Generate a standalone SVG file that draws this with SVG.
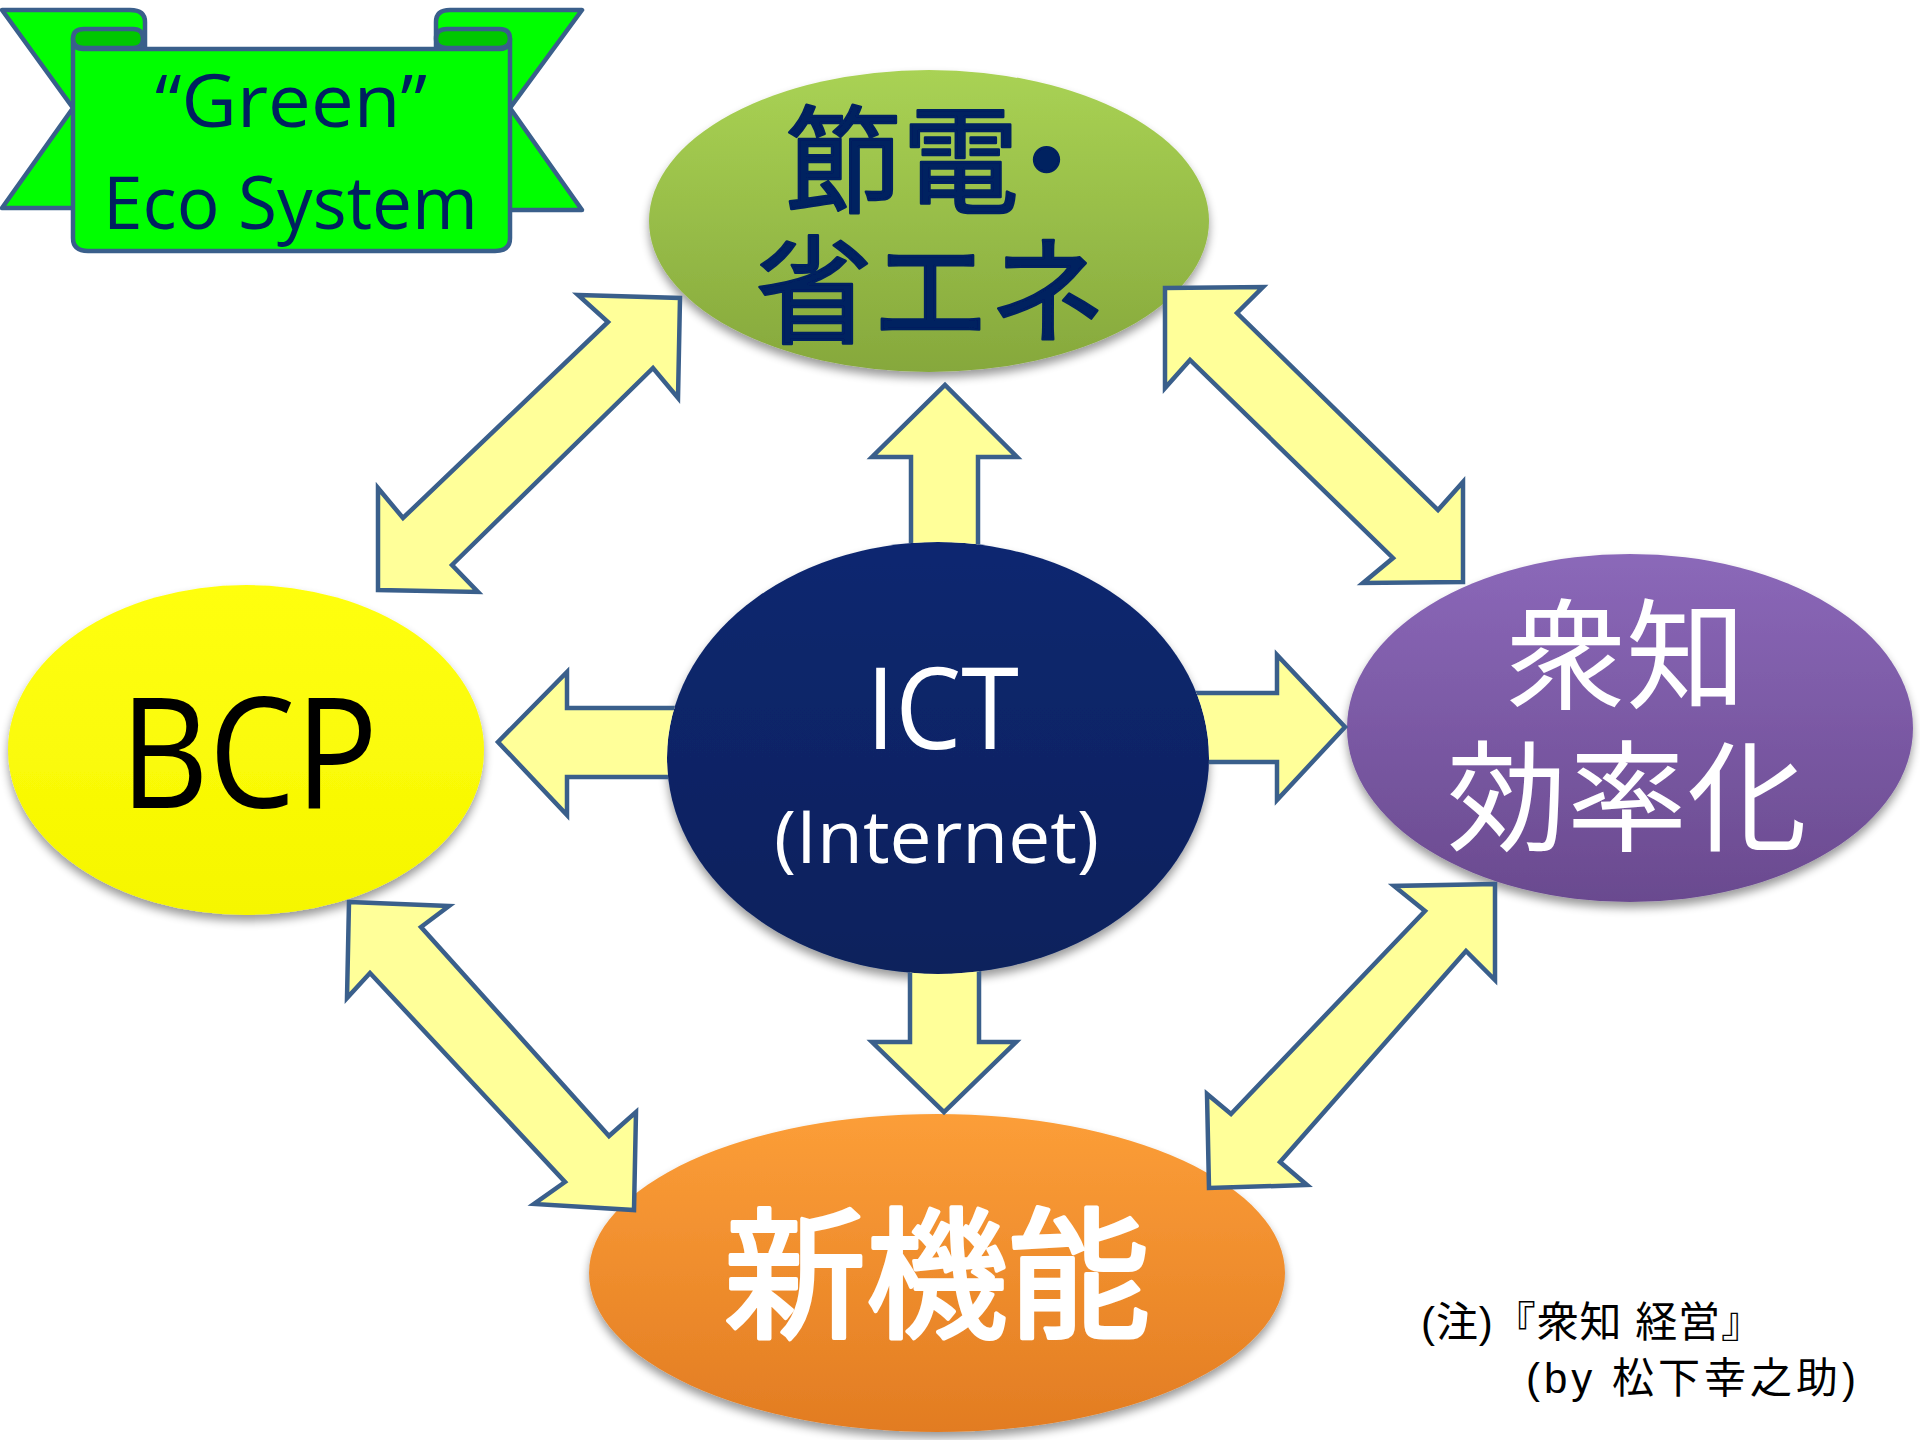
<svg xmlns="http://www.w3.org/2000/svg" width="1920" height="1440" viewBox="0 0 1920 1440">
<defs>
<style>
.arrow{fill:#FFFF99;stroke:#3A5F8B;stroke-width:4.5;stroke-linejoin:miter}
.ban{stroke:#3A5F8B;stroke-width:4.5;stroke-linejoin:round}
.lat{font-family:"Open Sans","Liberation Sans",sans-serif}
.cjk{font-family:"Noto Sans CJK JP","Noto Sans CJK SC",sans-serif}
</style>
<linearGradient id="gGreen" x1="0" y1="0" x2="0" y2="1"><stop offset="0" stop-color="#A9D254"/><stop offset="1" stop-color="#86A83C"/></linearGradient>
<linearGradient id="gNavy" x1="0" y1="0" x2="0" y2="1"><stop offset="0" stop-color="#0D2870"/><stop offset="1" stop-color="#08205C"/></linearGradient>
<linearGradient id="gYellow" x1="0" y1="0" x2="0" y2="1"><stop offset="0" stop-color="#FFFF10"/><stop offset="1" stop-color="#F6F600"/></linearGradient>
<linearGradient id="gPurple" x1="0" y1="0" x2="0" y2="1"><stop offset="0" stop-color="#8B68B9"/><stop offset="1" stop-color="#6A4A8F"/></linearGradient>
<linearGradient id="gOrange" x1="0" y1="0" x2="0" y2="1"><stop offset="0" stop-color="#FC9E38"/><stop offset="1" stop-color="#E27C22"/></linearGradient>
<filter id="sh" x="-10%" y="-10%" width="120%" height="130%">
<feGaussianBlur in="SourceAlpha" stdDeviation="5"/>
<feOffset dy="6"/>
<feComponentTransfer><feFuncA type="linear" slope="0.4"/></feComponentTransfer>
<feMerge><feMergeNode/><feMergeNode in="SourceGraphic"/></feMerge>
</filter>
<clipPath id="outsideICT"><path clip-rule="evenodd" d="M0,0H1920V1440H0Z M667,758 A271,216 0 1 0 1209,758 A271,216 0 1 0 667,758 Z"/></clipPath>
</defs>
<rect width="1920" height="1440" fill="#FFFFFF"/>

<g id="banner">
<path class="ban" fill="#00FF00" d="M2,10 L130,10 Q145,10 145,22 L145,208 L2,208 L73,108 Z"/>
<path class="ban" fill="#00FF00" d="M582,10 L450,10 Q436,10 436,22 L436,210 L582,210 L510,108 Z"/>
<path class="ban" fill="#00FF00" d="M73,38.5 L73,238 Q73,251 88,251 L495,251 Q510,251 510,238 L510,38.5 Q510,49 500,49 L83,49 Q73,49 73,38.5 Z"/>
<path class="ban" fill="#00C800" d="M84,29 L133,29 Q143,29 143,38.5 Q143,48 133,48 L84,48 Q73,48 73,38.5 Q73,29 84,29 Z"/>
<path class="ban" fill="#00C800" d="M447,29 L499,29 Q510,29 510,38.5 Q510,48 499,48 L447,48 Q436,48 436,38.5 Q436,29 447,29 Z"/>
<text class="lat" font-size="74" fill="#002060"><tspan x="155" y="127" textLength="272" lengthAdjust="spacingAndGlyphs">“Green”</tspan><tspan x="103" y="229" textLength="375" lengthAdjust="spacingAndGlyphs">Eco System</tspan></text>
</g>

<g id="node-setsuden" filter="url(#sh)">
<ellipse cx="929" cy="221" rx="280" ry="151" fill="url(#gGreen)"/>
<text class="cjk" font-size="117" fill="#002060" stroke="#002060" stroke-width="2.5" stroke-linejoin="round"><tspan x="785 902 988" y="204">節電・</tspan><tspan x="755" y="334">省エネ</tspan></text>
</g>

<g id="node-ict" filter="url(#sh)">
<ellipse cx="938" cy="758" rx="271" ry="216" fill="url(#gNavy)"/>
<text class="lat" fill="#FFFFFF"><tspan x="866" y="749" font-size="114" textLength="153" lengthAdjust="spacingAndGlyphs">ICT</tspan><tspan x="774" y="863" font-size="74" textLength="325" lengthAdjust="spacingAndGlyphs">(Internet)</tspan></text>
</g>

<g id="node-bcp" filter="url(#sh)">
<ellipse cx="246" cy="750" rx="238" ry="165" fill="url(#gYellow)"/>
<text class="lat" x="120" y="808" font-size="154" fill="#000000" textLength="258" lengthAdjust="spacingAndGlyphs">BCP</text>
</g>

<g id="node-shuchi" filter="url(#sh)">
<ellipse cx="1630" cy="728" rx="283" ry="174" fill="url(#gPurple)"/>
<text class="cjk" font-size="120" fill="#FFFFFF"><tspan x="1506" y="700">衆知</tspan><tspan x="1447" y="842">効率化</tspan></text>
</g>

<g id="node-shinkino" filter="url(#sh)">
<ellipse cx="937" cy="1273" rx="348" ry="159" fill="url(#gOrange)"/>
<text class="cjk" x="937" y="1327" font-size="142" fill="#FFFFFF" stroke="#FFFFFF" stroke-width="4" stroke-linejoin="round" text-anchor="middle">新機能</text>
</g>

<g id="connectors">
<g clip-path="url(#outsideICT)">
<polygon class="arrow" points="911,620 911,457 872,457 945,385 1017,457 978,457 978,620"/>
<polygon class="arrow" points="910,900 910,1042 872,1042 944,1112 1016,1042 979,1042 979,900"/>
<polygon class="arrow" points="760,708 567,708 567,672 498,742 567,815 567,777 760,777"/>
<polygon class="arrow" points="1120,693 1277,693 1277,655 1345,727 1277,800 1277,762 1120,762"/>
</g>
<polygon class="arrow" points="578,295 680,298 678,398 653,368 452,565 478,592 378,590 378,488 403,518 608,322"/>
<polygon class="arrow" points="1165,288 1263,287 1237,313 1438,510 1463,482 1463,582 1363,583 1393,558 1190,360 1165,388"/>
<polygon class="arrow" points="349,902 449,906 421,927 609,1136 636,1112 634,1210 534,1204 565,1182 370,973 347,998"/>
<polygon class="arrow" points="1495,884 1394,886 1425,911 1231,1114 1207,1094 1209,1188 1307,1185 1280,1162 1466,951 1495,980"/>
</g>

<g id="note" font-family="'Liberation Sans','Noto Sans CJK JP',sans-serif" font-size="42" fill="#000000">
<text><tspan x="1421" y="1337" textLength="342">(注)『衆知 経営』</tspan><tspan x="1526" y="1393" textLength="330">(by 松下幸之助)</tspan></text>
</g>
</svg>
